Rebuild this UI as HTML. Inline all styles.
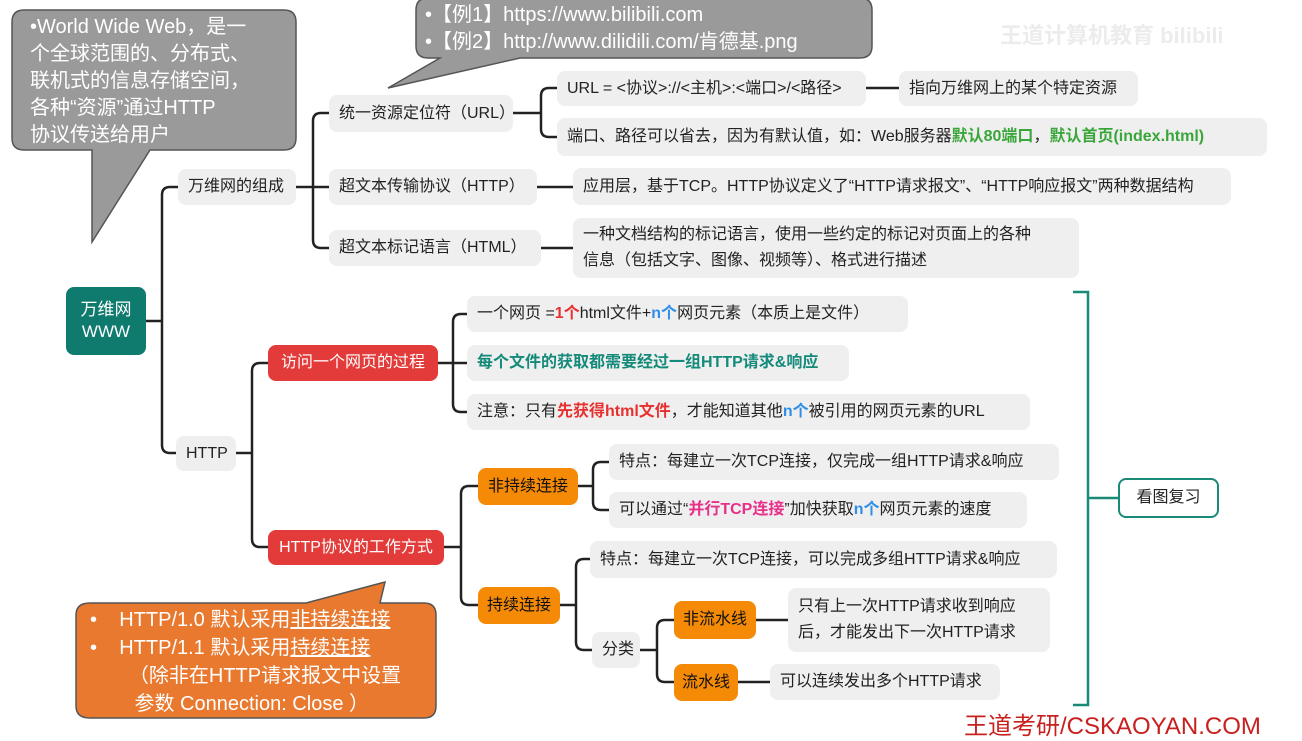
<!DOCTYPE html>
<html><head><meta charset="utf-8"><style>
body{margin:0;width:1302px;height:730px;background:#fff;position:relative;overflow:hidden;font-family:"Liberation Sans","Noto Sans CJK SC",sans-serif;}
.n{position:absolute;background:#efefef;border-radius:8px;font-size:16px;color:#222;display:flex;align-items:center;padding-left:10px;box-sizing:border-box;white-space:nowrap;line-height:26px}
.r{background:#e23b39;color:#fff;justify-content:center;padding:0}
.o{background:#f58a07;color:#111;justify-content:center;padding:0}
.red{color:#e83030;font-weight:bold}.blue{color:#2f8fe8;font-weight:bold}.grn{color:#3aa63a;font-weight:bold}.pink{color:#e8308a;font-weight:bold}
svg{position:absolute;left:0;top:0}
.co{position:absolute;color:#fff;font-size:20px;line-height:27px;white-space:nowrap}
</style></head><body>
<svg width="1302" height="730">
<g fill="none" stroke="#222" stroke-width="2.5">
<path d="M146 321H162M178 187H170Q162 187 162 195V445Q162 453 170 453H176"/>
<path d="M296 187H329M329 113H321Q313 113 313 121V240Q313 248 321 248H329"/>
<path d="M513 113H541M557 88H549Q541 88 541 96V129Q541 137 549 137H557"/>
<path d="M537 187H573M541 248H573M866 88H899"/>
<path d="M236 453H252M268 363H260Q252 363 252 371V539Q252 547 260 547H268"/>
<path d="M438 363H467M467 314H461Q453 314 453 322V404Q453 412 461 412H467"/>
<path d="M444 547H461M478 486H469Q461 486 461 494V597Q461 605 469 605H478"/>
<path d="M578 486H593M609 462H601Q593 462 593 470V502Q593 510 601 510H609"/>
<path d="M560 605H576M590 559H584Q576 559 576 567V642Q576 650 584 650H592"/>
<path d="M640 650H657M674 620H665Q657 620 657 628V674Q657 682 665 682H674"/>
<path d="M756 620H788M738 682H770"/>
</g>
<path d="M1073 292H1088V705H1073M1088 498H1118" fill="none" stroke="#1a8a78" stroke-width="2.5"/>
<path d="M24 10H284Q296 10 296 22V138Q296 150 284 150H150L92 242L92 150H24Q12 150 12 138V22Q12 10 24 10Z" fill="#9a9a9a" stroke="#555" stroke-width="1.5"/>
<path d="M428 -2H860Q872 -2 872 10V46Q872 58 860 58H520L388 88L440 58H428Q416 58 416 46V10Q416 -2 428 -2Z" fill="#9a9a9a" stroke="#555" stroke-width="1.5"/>
<path d="M90 603H232L306 603L385 582L380 603H424Q436 603 436 615V706Q436 718 424 718H90Q76 718 76 706V615Q76 603 90 603Z" fill="#e8792e" stroke="#555" stroke-width="1.5"/>
</svg>
<div class="co" style="left:30px;top:14px">•World Wide Web，是一<br>个全球范围的、分布式、<br>联机式的信息存储空间，<br>各种“资源”通过HTTP<br>协议传送给用户</div>
<div class="co" style="left:425px;top:2px;line-height:27px">•【例1】https://www.bilibili.com<br>•【例2】http://www.dilidili.com/肯德基.png</div>
<div class="co" style="left:90px;top:606px;line-height:28px">•&nbsp;&nbsp;&nbsp;&nbsp;HTTP/1.0 默认采用<u>非持续连接</u><br>•&nbsp;&nbsp;&nbsp;&nbsp;HTTP/1.1 默认采用<u>持续连接</u><br>&nbsp;&nbsp;&nbsp;&nbsp;&nbsp;&nbsp;&nbsp;（除非在HTTP请求报文中设置<br>&nbsp;&nbsp;&nbsp;&nbsp;&nbsp;&nbsp;&nbsp;&nbsp;参数 Connection: Close ）</div>
<div class="n" style="left:66px;top:287px;width:80px;height:68px;background:#0f7a6e;color:#fff;justify-content:center;padding:0;text-align:center;line-height:22px;font-size:17px">万维网<br>WWW</div>
<div class="n" style="left:178px;top:169px;width:118px;height:36px">万维网的组成</div>
<div class="n" style="left:176px;top:436px;width:60px;height:35px">HTTP</div>
<div class="n" style="left:329px;top:95px;width:184px;height:37px">统一资源定位符（URL）</div>
<div class="n" style="left:329px;top:169px;width:208px;height:36px">超文本传输协议（HTTP）</div>
<div class="n" style="left:329px;top:230px;width:212px;height:36px">超文本标记语言（HTML）</div>
<div class="n" style="left:557px;top:71px;width:309px;height:35px">URL = &lt;协议&gt;://&lt;主机&gt;:&lt;端口&gt;/&lt;路径&gt;</div>
<div class="n" style="left:899px;top:71px;width:239px;height:35px">指向万维网上的某个特定资源</div>
<div class="n" style="left:557px;top:118px;width:710px;height:38px">端口、路径可以省去，因为有默认值，如：Web服务器<span class="grn">默认80端口</span>，<span class="grn">默认首页(index.html)</span></div>
<div class="n" style="left:573px;top:168px;width:658px;height:37px">应用层，基于TCP。HTTP协议定义了“HTTP请求报文”、“HTTP响应报文”两种数据结构</div>
<div class="n" style="left:573px;top:218px;width:506px;height:60px">一种文档结构的标记语言，使用一些约定的标记对页面上的各种<br>信息（包括文字、图像、视频等）、格式进行描述</div>
<div class="n r" style="left:268px;top:345px;width:170px;height:36px">访问一个网页的过程</div>
<div class="n r" style="left:268px;top:530px;width:176px;height:35px">HTTP协议的工作方式</div>
<div class="n" style="left:467px;top:296px;width:441px;height:36px">一个网页 = <span class="red">1个</span>html文件+<span class="blue">n个</span>网页元素（本质上是文件）</div>
<div class="n" style="left:467px;top:345px;width:382px;height:36px;color:#138a7a;font-weight:bold">每个文件的获取都需要经过一组HTTP请求&amp;响应</div>
<div class="n" style="left:467px;top:394px;width:563px;height:36px">注意：只有<span class="red">先获得html文件</span>，才能知道其他<span class="blue">n个</span>被引用的网页元素的URL</div>
<div class="n o" style="left:478px;top:468px;width:100px;height:37px">非持续连接</div>
<div class="n o" style="left:478px;top:587px;width:82px;height:37px">持续连接</div>
<div class="n" style="left:609px;top:444px;width:450px;height:36px">特点：每建立一次TCP连接，仅完成一组HTTP请求&amp;响应</div>
<div class="n" style="left:609px;top:492px;width:418px;height:36px">可以通过“<span class="pink">并行TCP连接</span>”加快获取<span class="blue">n个</span>网页元素的速度</div>
<div class="n" style="left:590px;top:541px;width:467px;height:37px">特点：每建立一次TCP连接，可以完成多组HTTP请求&amp;响应</div>
<div class="n" style="left:592px;top:632px;width:48px;height:36px">分类</div>
<div class="n o" style="left:674px;top:601px;width:82px;height:38px">非流水线</div>
<div class="n" style="left:788px;top:588px;width:262px;height:64px">只有上一次HTTP请求收到响应<br>后，才能发出下一次HTTP请求</div>
<div class="n o" style="left:674px;top:664px;width:64px;height:37px">流水线</div>
<div class="n" style="left:770px;top:664px;width:230px;height:36px">可以连续发出多个HTTP请求</div>
<div class="n" style="left:1118px;top:478px;width:101px;height:40px;background:#fff;border:2.5px solid #1a8a78;justify-content:center;padding:0">看图复习</div>
<div style="position:absolute;left:964px;top:706px;font-size:24px;color:#c8201e;white-space:nowrap">王道考研/CSKAOYAN.COM</div>
<div style="position:absolute;left:1000px;top:18px;font-size:22px;color:#ececec;white-space:nowrap;font-weight:bold">王道计算机教育 bilibili</div>
</body></html>
